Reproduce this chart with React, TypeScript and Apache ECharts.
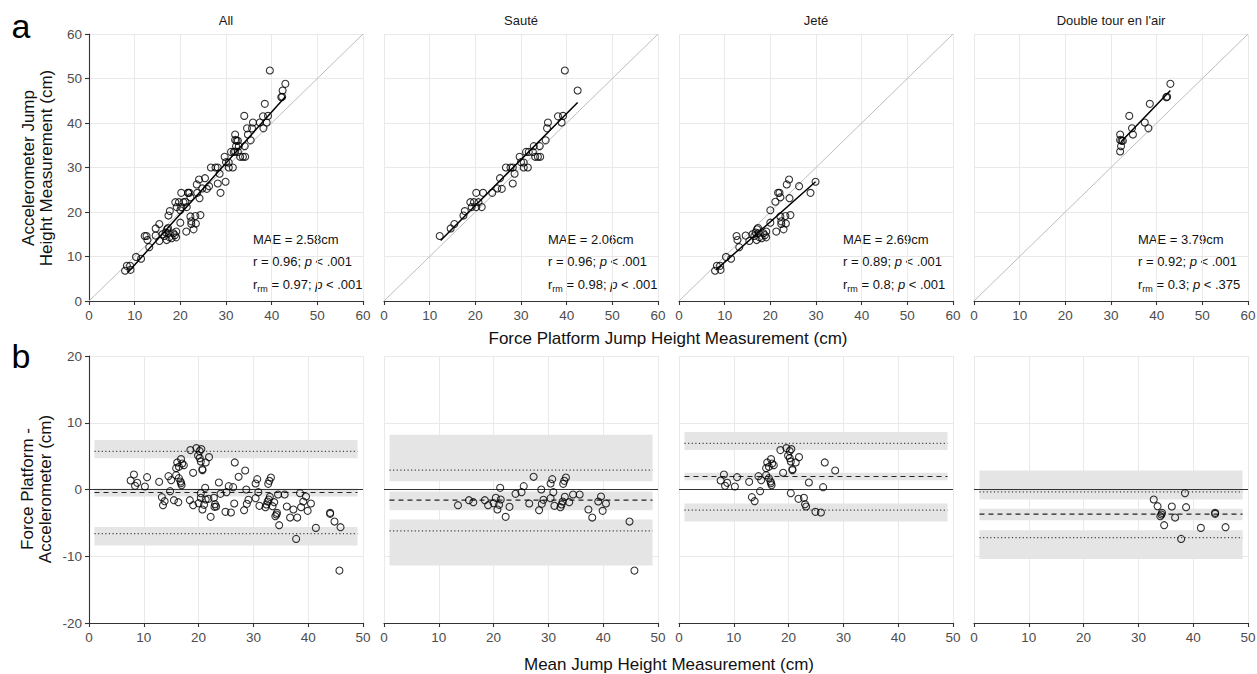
import React, { useEffect, useRef } from 'react';
import * as echarts from 'echarts';

// ---------- DATA ----------
const panelTitles = ['All', 'Sauté', 'Jeté', "Double tour en l'air"];
const xTicksA = [0, 10, 20, 30, 40, 50, 60];
const yTicksA = [0, 10, 20, 30, 40, 50, 60];
const xTicksB = [0, 10, 20, 30, 40, 50];
const yTicksB = [-20, -10, 0, 10, 20];

// Panel a: [force platform, accelerometer]
const sauteA = [
  [12.2, 14.6], [14.6, 16.3], [15.4, 17.3], [17.4, 19.2], [17.7, 20.2], [18.9, 22.2], [19.7, 22.2],
  [20.2, 24.3], [21.7, 24.3], [19.2, 21.1], [20.2, 21.1], [20.7, 22.2], [21.4, 21.1], [23.7, 24.3],
  [24.8, 25.3], [25.8, 25.2], [25.4, 27.6], [26.7, 30.0], [27.7, 30.0], [28.2, 30.0], [28.6, 28.6],
  [28.2, 26.4], [29.7, 32.4], [30.0, 31.2], [30.6, 30.0], [31.5, 30.0], [30.6, 31.1], [31.1, 33.5],
  [31.7, 33.5], [32.6, 33.5], [32.8, 34.8], [33.1, 32.4], [33.7, 32.4], [34.2, 32.4], [34.1, 34.8],
  [35.4, 36.1], [35.7, 38.8], [35.9, 40.1], [38.1, 41.5], [39.2, 41.6], [38.9, 40.1], [39.6, 51.8],
  [42.4, 47.3],
];
const jeteA = [
  [7.9, 6.8], [9.1, 7.0], [8.3, 7.9], [9.0, 7.9], [10.3, 9.9], [11.4, 9.5], [12.8, 13.7], [12.6, 14.6],
  [13.2, 12.1], [14.6, 14.7], [15.4, 13.5], [16.1, 15.0], [16.8, 15.4], [17.1, 16.1], [17.6, 14.3],
  [18.1, 14.1], [18.5, 15.2], [19.1, 15.6], [17.4, 15.2], [19.1, 14.3], [17.0, 13.7], [17.3, 16.4],
  [18.8, 14.8], [16.5, 14.6], [20.0, 17.6], [20.0, 20.4], [21.3, 15.6], [21.1, 22.3], [21.7, 24.3],
  [22.0, 24.3], [22.2, 23.3], [22.2, 19.0], [22.4, 17.9], [22.4, 17.3], [22.9, 16.1], [23.3, 19.1],
  [23.4, 17.4], [23.6, 26.2], [24.1, 27.3], [24.2, 23.1], [24.4, 19.3], [26.3, 25.8], [28.8, 24.3],
  [29.9, 26.8],
];
const doubleA = [
  [32.0, 37.4], [32.0, 36.2], [32.3, 36.0], [32.6, 36.0], [32.2, 34.8], [32.0, 33.6], [34.0, 41.6],
  [34.6, 38.8], [34.8, 37.4], [37.4, 40.1], [38.2, 38.8], [38.5, 44.3], [42.1, 45.8], [42.3, 45.9],
  [43.0, 48.8],
];
const identityLine = [[0, 0], [60, 60]];
const fitAll = [[8.5, 6.4], [43.0, 45.9]];
const fitSaute = [[12.4, 13.6], [42.4, 44.6]];
const fitJete = [[8.1, 7.0], [29.9, 26.8]];
const fitDouble = [[32.2, 35.8], [43.0, 47.3]];

// Panel b: [mean, difference]
const sauteB = [
  [13.5, -2.35], [15.5, -1.6], [16.3, -1.9], [18.4, -1.6], [19.0, -2.35], [20.0, -2.05], [20.4, -1.25],
  [21.3, -1.5], [21.0, -2.3], [20.7, -3.0], [21.2, 0.25], [22.2, -4.1], [22.9, -2.6], [24.0, -0.65],
  [25.1, -0.4], [25.5, 0.5], [26.5, -2.1], [27.3, 1.9], [28.7, 0.0], [28.3, -3.1], [28.8, -2.15],
  [29.1, -1.55], [30.4, -1.3], [30.4, 0.9], [30.7, 1.55], [30.9, -0.4], [31.1, -2.45], [32.2, -2.65],
  [32.4, -2.25], [32.6, -1.8], [32.7, 0.85], [32.9, 1.3], [33.2, 1.8], [33.0, -1.1], [33.8, -1.9],
  [34.5, -0.75], [35.7, -0.75], [37.3, -3.0], [38.0, -4.2], [39.1, -1.8], [39.6, -1.05], [39.9, -3.2],
  [40.5, -2.1], [44.8, -4.8], [45.7, -12.15],
];
const jeteB = [
  [7.6, 1.35], [8.2, 2.25], [8.4, 0.55], [8.8, 1.0], [10.2, 0.45], [10.6, 1.85], [12.8, 1.15],
  [13.3, -1.15], [13.8, -1.75], [14.5, 2.0], [14.8, -0.25], [15.0, 1.4], [15.9, 2.15], [15.9, 3.2],
  [16.1, 4.05], [16.4, 3.4], [16.8, 4.55], [17.0, 3.9], [17.3, 3.65], [16.4, 1.7], [16.7, 1.2],
  [16.8, 0.95], [16.9, 0.65], [18.5, 5.9], [19.0, 2.5], [19.6, 6.2], [19.9, 5.1], [20.2, 5.75],
  [20.5, 6.05], [20.2, 4.7], [20.4, 4.2], [20.7, 3.05], [20.7, 2.9], [21.3, 4.05], [21.9, 4.85],
  [20.4, -0.55], [21.8, -1.4], [22.8, -1.25], [23.0, -2.2], [23.2, -2.55], [23.7, 1.05], [24.9, -3.35],
  [25.9, -3.45], [26.3, 0.35], [26.6, 4.05], [28.5, 2.85],
];
const doubleB = [
  [32.8, -1.5], [33.5, -2.5], [34.3, -3.5], [34.2, -3.75], [34.0, -4.0], [34.7, -5.35], [36.1, -2.55],
  [36.7, -4.2], [38.5, -0.55], [38.7, -2.65], [37.8, -7.4], [41.4, -5.75], [44.0, -3.5], [44.0, -3.65],
  [45.9, -5.65],
];
const zeroLine = [[0, 0], [50, 0]];
const bandX = [1, 49];
const biasVals = [-0.45, -1.6, 1.95, -3.7];
const biasCI = [[-1.05, 0.15], [-3.1, -0.3], [1.4, 2.5], [-4.6, -2.9]];
const upperLoA = [5.7, 2.9, 6.9, -0.35];
const upperCI = [[4.7, 7.4], [1.25, 8.2], [5.9, 8.6], [-1.5, 2.85]];
const lowerLoA = [-6.6, -6.2, -3.1, -7.2];
const lowerCI = [[-8.4, -5.6], [-11.4, -4.5], [-4.8, -2.1], [-10.4, -6.1]];

const maeVals = ['2.58', '2.06', '2.69', '3.79'];
const rVals = ['0.96', '0.96', '0.89', '0.92'];
const rP = ['< .001', '< .001', '< .001', '< .001'];
const rrmVals = ['0.97', '0.98', '0.8', '0.3'];
const rrmP = ['< .001', '< .001', '< .001', '< .375'];

// ---------- LAYOUT ----------
const FONT = 'Liberation Sans, Arial, sans-serif';
const colLeft = [89, 384, 679, 974];
const rowTop = [34, 356];
const PW = 274;
const PH = 267;

function buildOption() {
  const aSets = [sauteA.concat(jeteA, doubleA), sauteA, jeteA, doubleA];
  const bSets = [sauteB.concat(jeteB, doubleB), sauteB, jeteB, doubleB];
  const fits = [fitAll, fitSaute, fitJete, fitDouble];

  const grid: any[] = [];
  const xAxis: any[] = [];
  const yAxis: any[] = [];
  const series: any[] = [];
  const graphic: any[] = [];

  const axisLineStyle = { color: '#333', width: 1.1 };
  const splitStyle = { color: '#e9e9e9', width: 1 };
  const labelStyle = { color: '#4d4d4d', fontSize: 13.5, fontFamily: FONT };
  const pointStyle = { color: 'rgba(255,255,255,0)', borderColor: '#000', borderWidth: 1.1 };

  for (let r = 0; r < 2; r++) {
    for (let c = 0; c < 4; c++) {
      const idx = r * 4 + c;
      grid.push({
        left: colLeft[c], top: rowTop[r], width: PW, height: PH,
        containLabel: false, outerBoundsMode: 'none',
      });
      const xt = r === 0 ? xTicksA : xTicksB;
      const yt = r === 0 ? yTicksA : yTicksB;
      xAxis.push({
        type: 'value', gridIndex: idx,
        min: xt[0], max: xt[xt.length - 1], interval: 10,
        axisLine: { show: true, onZero: false, lineStyle: axisLineStyle },
        axisTick: { show: true, length: 4, lineStyle: axisLineStyle },
        axisLabel: { show: true, margin: 7, ...labelStyle },
        splitLine: { show: true, lineStyle: splitStyle },
      });
      yAxis.push({
        type: 'value', gridIndex: idx,
        min: yt[0], max: yt[yt.length - 1], interval: 10,
        axisLine: { show: c === 0, onZero: false, lineStyle: axisLineStyle },
        axisTick: { show: c === 0, length: 4, lineStyle: axisLineStyle },
        axisLabel: { show: c === 0, margin: 7, ...labelStyle },
        splitLine: { show: true, lineStyle: splitStyle },
      });

      if (r === 0) {
        series.push({
          type: 'line', xAxisIndex: idx, yAxisIndex: idx, data: identityLine,
          symbol: 'none', silent: true, z: 2,
          lineStyle: { color: '#bdbdbd', width: 1 },
        });
        series.push({
          type: 'scatter', xAxisIndex: idx, yAxisIndex: idx, data: aSets[c],
          symbol: 'circle', symbolSize: 7, z: 3, itemStyle: pointStyle,
        });
        series.push({
          type: 'line', xAxisIndex: idx, yAxisIndex: idx, data: fits[c],
          symbol: 'none', silent: true, z: 4,
          lineStyle: { color: '#000', width: 1.5 },
        });
      } else {
        const bands = [
          [bandX[0], bandX[1], upperCI[c][0], upperCI[c][1]],
          [bandX[0], bandX[1], biasCI[c][0], biasCI[c][1]],
          [bandX[0], bandX[1], lowerCI[c][0], lowerCI[c][1]],
        ];
        series.push({
          type: 'custom', xAxisIndex: idx, yAxisIndex: idx, data: bands, z: 1, silent: true,
          encode: { x: [0, 1], y: [2, 3] },
          renderItem: (params: any, api: any) => {
            const p0 = api.coord([api.value(0), api.value(2)]);
            const p1 = api.coord([api.value(1), api.value(3)]);
            return {
              type: 'rect',
              shape: { x: p0[0], y: p1[1], width: p1[0] - p0[0], height: p0[1] - p1[1] },
              style: { fill: '#e5e5e5' },
            };
          },
        });
        series.push({
          type: 'line', xAxisIndex: idx, yAxisIndex: idx, data: zeroLine,
          symbol: 'none', silent: true, z: 2, lineStyle: { color: '#333', width: 1.2 },
        });
        series.push({
          type: 'line', xAxisIndex: idx, yAxisIndex: idx,
          data: [[bandX[0], upperLoA[c]], [bandX[1], upperLoA[c]]],
          symbol: 'none', silent: true, z: 2, lineStyle: { color: '#444', width: 1.2, type: [1.2, 2.4] },
        });
        series.push({
          type: 'line', xAxisIndex: idx, yAxisIndex: idx,
          data: [[bandX[0], lowerLoA[c]], [bandX[1], lowerLoA[c]]],
          symbol: 'none', silent: true, z: 2, lineStyle: { color: '#444', width: 1.2, type: [1.2, 2.4] },
        });
        series.push({
          type: 'line', xAxisIndex: idx, yAxisIndex: idx,
          data: [[bandX[0], biasVals[c]], [bandX[1], biasVals[c]]],
          symbol: 'none', silent: true, z: 2, lineStyle: { color: '#222', width: 1.2, type: [5, 4] },
        });
        series.push({
          type: 'scatter', xAxisIndex: idx, yAxisIndex: idx, data: bSets[c],
          symbol: 'circle', symbolSize: 7, z: 3, itemStyle: pointStyle,
        });
      }
    }
  }

  // Panel titles and annotations
  for (let c = 0; c < 4; c++) {
    graphic.push({
      type: 'text', x: colLeft[c] + PW / 2, y: 20,
      style: { text: panelTitles[c], fontSize: 13, fontFamily: FONT, fill: '#1a1a1a', align: 'center', verticalAlign: 'middle' },
    });
    const tx = colLeft[c] + 164;
    const rich = {
      n: { fontSize: 13, fontFamily: FONT, fill: '#111', lineHeight: 18 },
      i: { fontSize: 13, fontFamily: FONT, fill: '#111', fontStyle: 'italic', lineHeight: 18 },
      s: { fontSize: 9, fontFamily: FONT, fill: '#111', lineHeight: 9, verticalAlign: 'bottom' },
    };
    graphic.push({
      type: 'text', x: tx, y: 239,
      style: { text: `MAE = ${maeVals[c]}cm`, fontSize: 13, fontFamily: FONT, fill: '#111', align: 'left', verticalAlign: 'middle' },
    });
    graphic.push({
      type: 'text', x: tx, y: 261,
      style: { text: `{n|r = ${rVals[c]}; }{i|p}{n| ${rP[c]}}`, rich, align: 'left', verticalAlign: 'middle' },
    });
    graphic.push({
      type: 'text', x: tx, y: 284,
      style: { text: `{n|r}{s|rm}{n| = ${rrmVals[c]}; }{i|p}{n| ${rrmP[c]}}`, rich, align: 'left', verticalAlign: 'middle' },
    });
  }

  // Panel letters
  graphic.push({ type: 'text', x: 21, y: 26, style: { text: 'a', fontSize: 34, fontFamily: FONT, fill: '#000', align: 'center', verticalAlign: 'middle' } });
  graphic.push({ type: 'text', x: 21, y: 356, style: { text: 'b', fontSize: 34, fontFamily: FONT, fill: '#000', align: 'center', verticalAlign: 'middle' } });

  // Axis titles
  graphic.push({ type: 'text', x: 668, y: 338, style: { text: 'Force Platform Jump Height Measurement (cm)', fontSize: 17, fontFamily: FONT, fill: '#111', align: 'center', verticalAlign: 'middle' } });
  graphic.push({ type: 'text', x: 669, y: 664, style: { text: 'Mean Jump Height Measurement (cm)', fontSize: 17, fontFamily: FONT, fill: '#111', align: 'center', verticalAlign: 'middle' } });
  graphic.push({
    type: 'text', x: 37, y: 168, rotation: Math.PI / 2,
    style: { text: 'Accelerometer Jump\nHeight Measurement (cm)', fontSize: 17, lineHeight: 18, fontFamily: FONT, fill: '#111', align: 'center', verticalAlign: 'middle' },
  });
  graphic.push({
    type: 'text', x: 36, y: 489, rotation: Math.PI / 2,
    style: { text: 'Force Platform -\nAccelerometer (cm)', fontSize: 17, lineHeight: 18, fontFamily: FONT, fill: '#111', align: 'center', verticalAlign: 'middle' },
  });

  return {
    animation: false,
    backgroundColor: '#fff',
    textStyle: { fontFamily: FONT },
    grid, xAxis, yAxis, series, graphic,
  };
}

export default function App() {
  const ref = useRef<HTMLDivElement>(null);
  useEffect(() => {
    document.body.style.margin = '0';
    const chart = echarts.init(ref.current as HTMLDivElement, null, { renderer: 'svg' });
    chart.setOption(buildOption() as any);
    return () => chart.dispose();
  }, []);
  return <div ref={ref} style={{ width: 1257, height: 674 }} />;
}
